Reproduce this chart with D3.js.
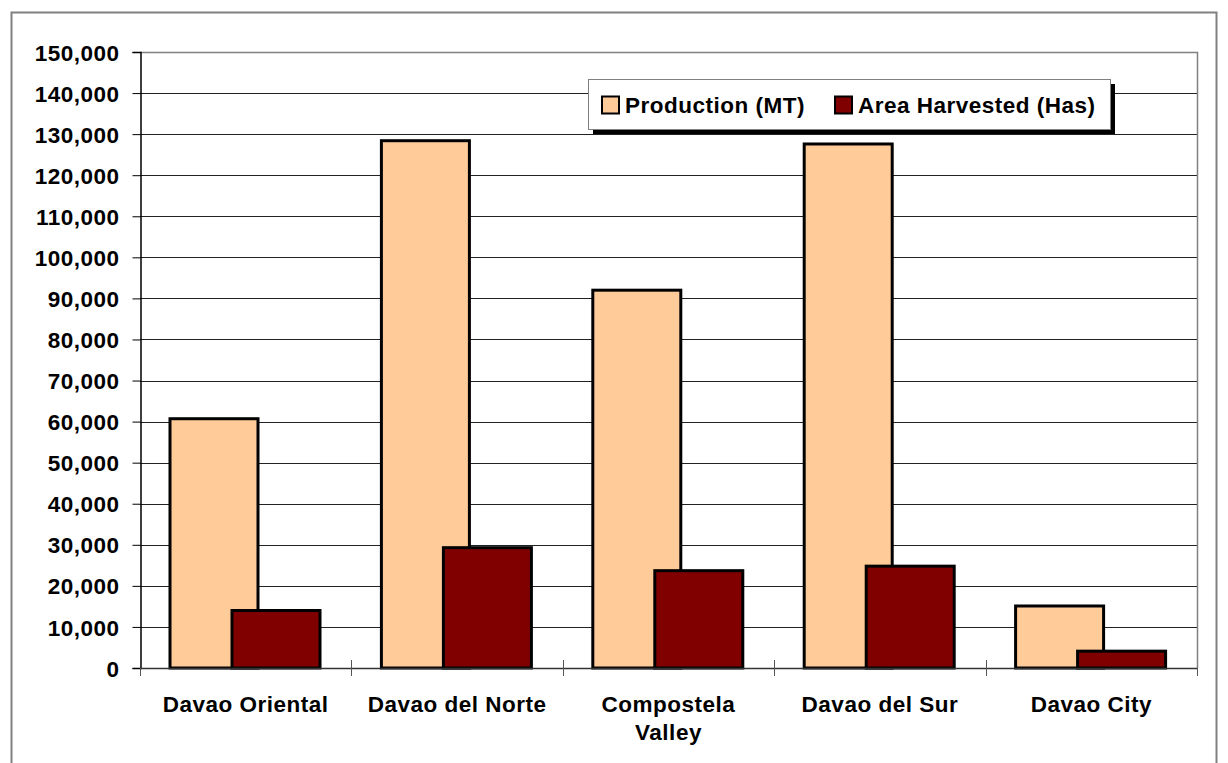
<!DOCTYPE html>
<html>
<head>
<meta charset="utf-8">
<script src="https://cdn.jsdelivr.net/npm/d3@7"></script>
<style>
  body { margin: 0; background: #fff; }
  text { font-family: Arial, "Liberation Sans", sans-serif; font-weight: bold; fill: #000; }
</style>
</head>
<body>
<div id="chart"></div>
<script>
"use strict";

var provinces = ['Davao Oriental', 'Davao del Norte', 'Compostela\nValley', 'Davao del Sur', 'Davao City'];
var production = [60700, 128400, 92000, 127600, 15100];
var areaHarvested = [14000, 29300, 23700, 24800, 4100];
var seriesNames = ['Production (MT)', 'Area Harvested (Has)'];
var seriesColors = ['#ffcc99', '#800000'];
var yTicks = d3.range(0, 150001, 10000);

var W = 1228, H = 763;
var plotL = 140, plotR = 1197, plotT = 52, plotB = 668;
var fontSize = '22.5px', spacing = '0.5px';

var svg = d3.select('#chart').append('svg').attr('width', W).attr('height', H);

// outer frame
svg.append('rect').attr('x', 11.5).attr('y', 12.5).attr('width', 1205).attr('height', 800)
  .attr('fill', 'none').attr('stroke', '#808080').attr('stroke-width', 2);

var x = d3.scaleBand().domain(d3.range(provinces.length)).range([plotL, plotR]);
var y = d3.scaleLinear().domain([0, 150000]).range([plotB, plotT]);

// gridlines
svg.append('g').selectAll('line').data(yTicks.slice(1, -1)).join('line')
  .attr('x1', plotL).attr('x2', plotR)
  .attr('y1', function (d) { return Math.round(y(d)) + 0.5; })
  .attr('y2', function (d) { return Math.round(y(d)) + 0.5; })
  .attr('stroke', '#222').attr('stroke-width', 1);

// plot area top/right border
svg.append('path').attr('d', 'M' + plotL + ',' + (plotT + 0.5) + 'H' + (plotR + 0.5) + 'V' + plotB)
  .attr('fill', 'none').attr('stroke', '#808080').attr('stroke-width', 1.5);

// bars
var barW = 88, offset = 62, pad = 30;
var series = [production, areaHarvested];
series.forEach(function (vals, s) {
  svg.append('g').selectAll('rect').data(vals).join('rect')
    .attr('x', function (d, i) { return x(i) + pad + s * offset; })
    .attr('y', function (d) { return y(d); })
    .attr('width', barW)
    .attr('height', function (d) { return plotB - y(d); })
    .attr('fill', seriesColors[s])
    .attr('stroke', '#000').attr('stroke-width', 3);
});

// y axis
var yAxis = d3.axisLeft(y).tickValues(yTicks).tickSize(8).tickPadding(13)
  .tickFormat(d3.format(','));
var gy = svg.append('g').attr('transform', 'translate(' + (plotL + 0.5) + ',0)').call(yAxis);
gy.select('.domain').attr('stroke', '#000').attr('stroke-width', 1.5);
gy.selectAll('.tick line').attr('stroke', '#000');
gy.selectAll('.tick text').style('font-size', fontSize).style('letter-spacing', spacing)
  .attr('dy', '0.36em');

// x axis baseline and category ticks
svg.append('line').attr('x1', plotL).attr('x2', plotR + 0.5).attr('y1', plotB + 0.5).attr('y2', plotB + 0.5)
  .attr('stroke', '#333').attr('stroke-width', 1.5);
var bounds = d3.range(provinces.length + 1).map(function (i) { return plotL + i * x.bandwidth(); });
svg.append('g').selectAll('line').data(bounds).join('line')
  .attr('x1', function (d) { return Math.round(d) + 0.5; })
  .attr('x2', function (d) { return Math.round(d) + 0.5; })
  .attr('y1', function (d, i) { return (i === 0 || i === bounds.length - 1) ? plotB : plotB - 8; })
  .attr('y2', plotB + 8)
  .attr('stroke', '#555').attr('stroke-width', 1);

// category labels
var lbl = svg.append('g').selectAll('text').data(provinces).join('text')
  .attr('x', function (d, i) { return x(i) + x.bandwidth() / 2; })
  .attr('y', 712)
  .attr('text-anchor', 'middle')
  .style('font-size', fontSize).style('letter-spacing', spacing);
lbl.each(function (d) {
  var t = d3.select(this);
  d.split('\n').forEach(function (line, k) {
    t.append('tspan').attr('x', t.attr('x')).attr('dy', k === 0 ? 0 : 28).text(line);
  });
});

// legend
var lg = svg.append('g').attr('transform', 'translate(588,79)');
lg.append('rect').attr('x', 5).attr('y', 5).attr('width', 522).attr('height', 50).attr('fill', '#000');
lg.append('rect').attr('x', 0.5).attr('y', 0.5).attr('width', 522).attr('height', 50)
  .attr('fill', '#fff').attr('stroke', '#808080').attr('stroke-width', 1);
var itemX = [14, 247];
seriesNames.forEach(function (name, s) {
  lg.append('rect').attr('x', itemX[s]).attr('y', 17.5).attr('width', 17).attr('height', 17)
    .attr('fill', seriesColors[s]).attr('stroke', '#000').attr('stroke-width', 2);
  lg.append('text').attr('x', itemX[s] + 23).attr('y', 34).text(name)
    .style('font-size', fontSize).style('letter-spacing', spacing);
});
</script>
</body>
</html>
